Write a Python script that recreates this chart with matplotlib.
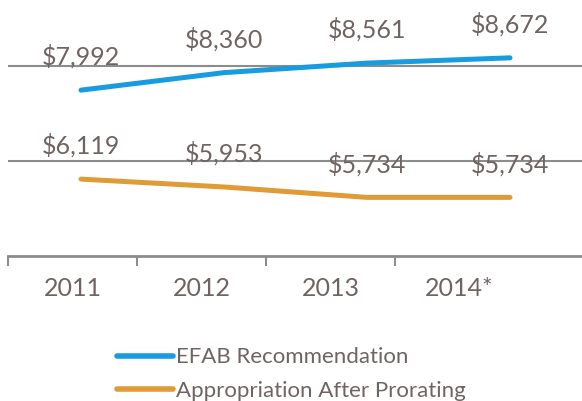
import matplotlib
matplotlib.use("Agg")
import matplotlib.pyplot as plt

years = ['2011', '2012', '2013', '2014*']
efab = [7992, 8360, 8561, 8672]
approp = [6119, 5953, 5734, 5734]
series_names = ['EFAB Recommendation', 'Appropriation After Prorating']

BLUE = '#179CE0'
ORANGE = '#E09B35'
TEXT = '#6E6562'
GRID = '#8C8C8C'

plt.rcParams['font.family'] = ['Lato', 'DejaVu Sans']

W, H = 582, 401
fig = plt.figure(figsize=(W / 100, H / 100), dpi=100)
ax = fig.add_axes([8 / W, (H - 256) / H, (W - 8) / W, 256 / H])

# category axis
ax.set_xlim(0, 574 / 129)
ax.set_ylim(4500, 4500 + 256 * 2000 / 95)
ax.set_xticks([0, 1, 2, 3])
ax.set_xticklabels([])
ax.set_xticks([0.5, 1.5, 2.5, 3.5], minor=True)
ax.set_xticklabels(years, minor=True, fontsize=18, color=TEXT)
ax.tick_params(axis='x', which='major', length=7, width=1.5, color=GRID, direction='out')
ax.tick_params(axis='x', which='minor', length=0, pad=15)
ax.set_yticks([6500, 8500])
ax.tick_params(axis='y', left=False, labelleft=False)
ax.grid(axis='y', color=GRID, linewidth=1.5)
ax.set_axisbelow(True)
for s in ['top', 'left', 'right']:
    ax.spines[s].set_visible(False)
ax.spines['bottom'].set_color(GRID)
ax.spines['bottom'].set_linewidth(2)

# series axis
ax2 = ax.twiny()
ax2.set_xlim((8 - 81) / 143, (582 - 81) / 143)
ax2.set_ylim(ax.get_ylim())
ax2.axis('off')
x = list(range(len(years)))
l1, = ax2.plot(x, efab, color=BLUE, lw=3.6, solid_capstyle='round', solid_joinstyle='round')
l2, = ax2.plot(x, approp, color=ORANGE, lw=3.6, solid_capstyle='round', solid_joinstyle='round')
for xi, v in zip(x, efab):
    ax2.annotate(f'${v:,}', (xi, v), xytext=(0, 24), textcoords='offset points',
                 ha='center', va='center', fontsize=18, color=TEXT)
for xi, v in zip(x, approp):
    ax2.annotate(f'${v:,}', (xi, v), xytext=(0, 24), textcoords='offset points',
                 ha='center', va='center', fontsize=18, color=TEXT)

leg = fig.legend([l1, l2], series_names, loc='center left',
                 bbox_to_anchor=(117 / W, (H - 374) / H), frameon=False,
                 fontsize=16, handlelength=2.5, handletextpad=0.15,
                 borderpad=0, borderaxespad=0, labelspacing=0.6)
for t in leg.get_texts():
    t.set_color(TEXT)
for ln in leg.get_lines():
    ln.set_linewidth(4)
    ln.set_solid_capstyle('round')

fig.savefig('out.png', dpi=100)
